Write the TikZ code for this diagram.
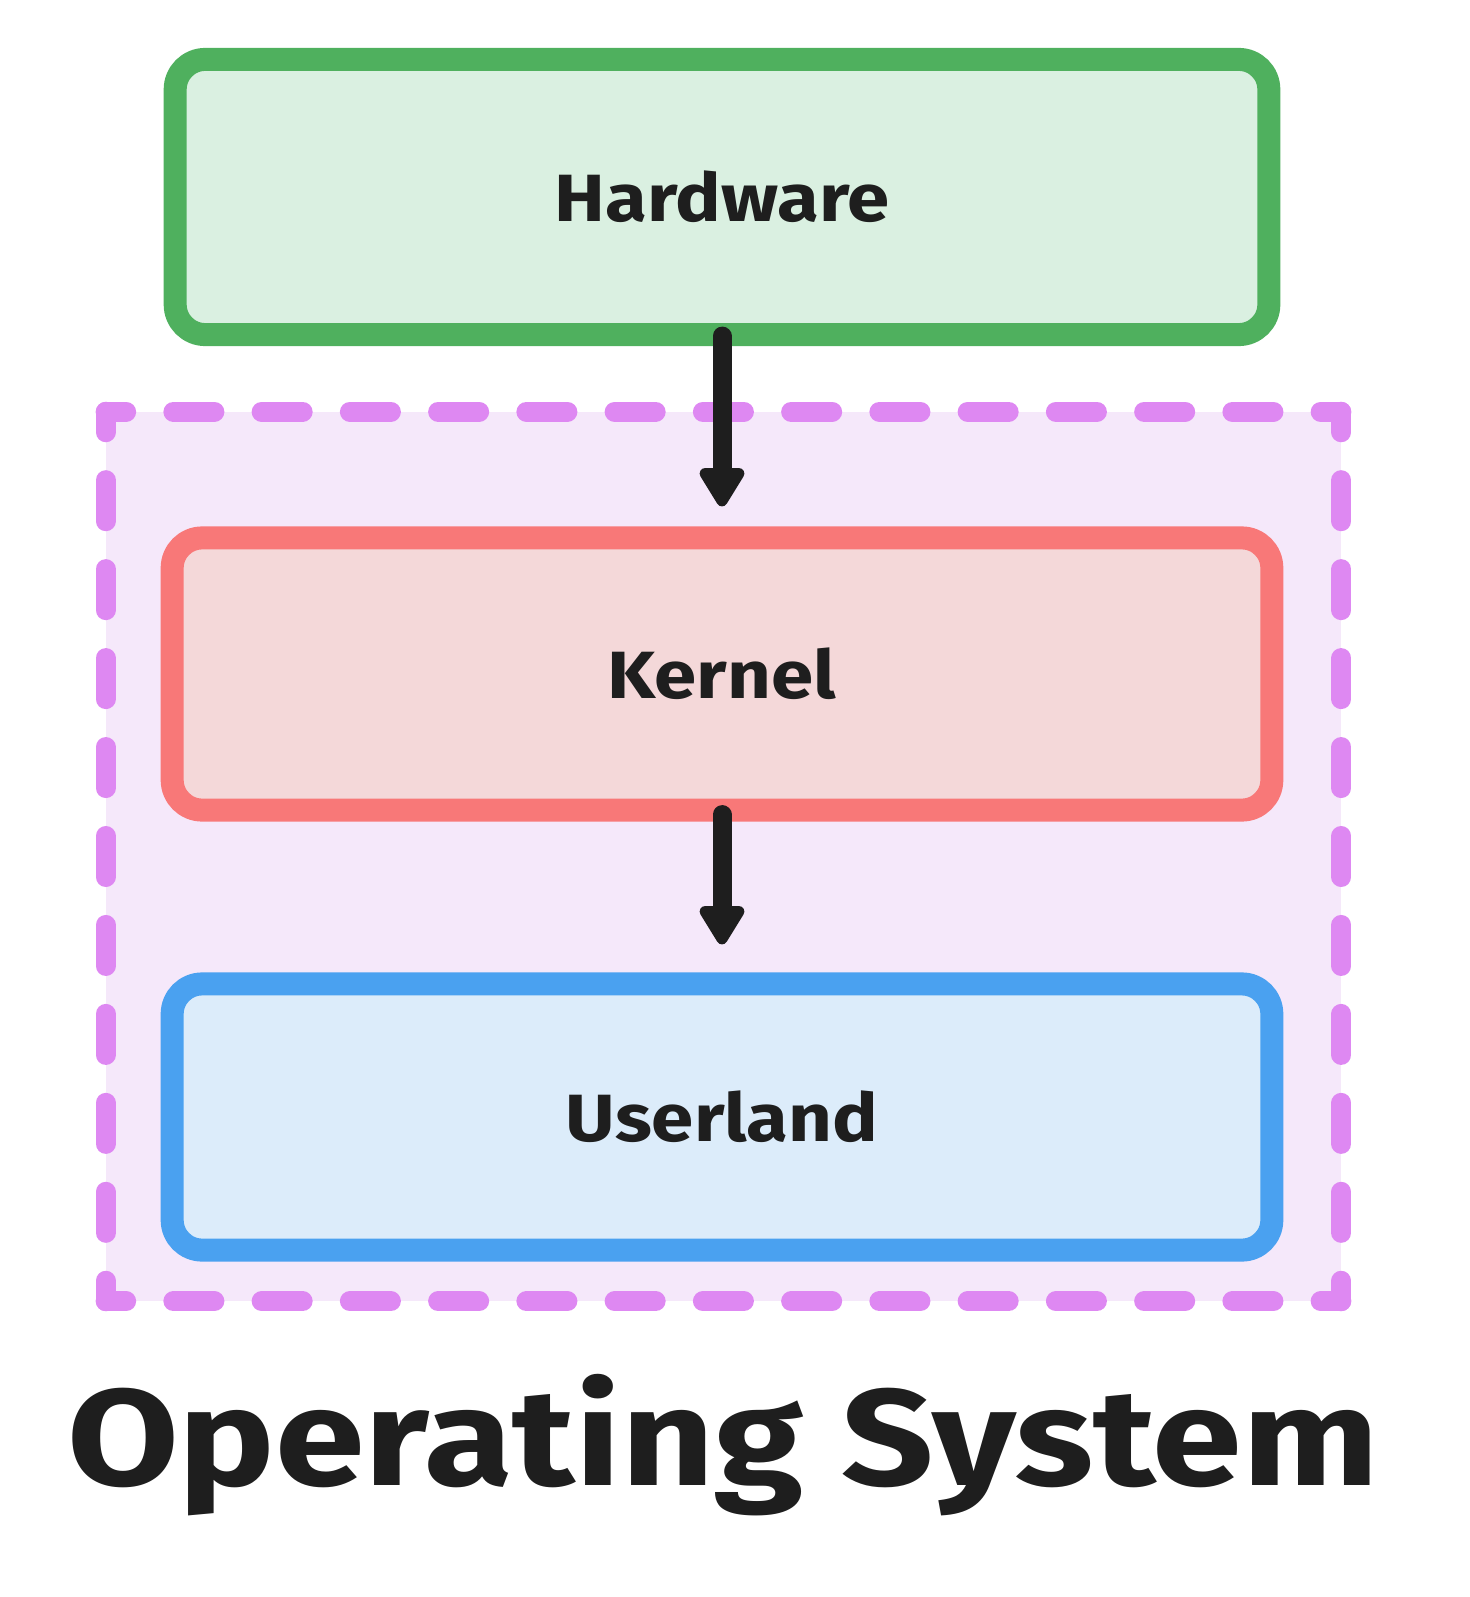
\documentclass[tikz,border=0pt]{standalone}
\usepackage{fontspec}
\setmainfont{Fira Sans}
\newfontfamily\handfont[FakeStretch=1.14]{Fira Sans}
\newfontfamily\titlefont[FakeStretch=1.18]{Fira Sans}
\usetikzlibrary{arrows.meta}
\definecolor{ink}{HTML}{1E1E1E}
\definecolor{hwline}{HTML}{4FB05E}
\definecolor{hwfill}{HTML}{DAF0E1}
\definecolor{knline}{HTML}{F87878}
\definecolor{knfill}{HTML}{F4D8D9}
\definecolor{usline}{HTML}{4AA1F0}
\definecolor{usfill}{HTML}{DCECFA}
\definecolor{osline}{HTML}{DE88F2}
\definecolor{osfill}{HTML}{F5E8FA}
\begin{document}
\begin{tikzpicture}[
    x=0.01cm, y=-0.01cm,
    layer/.style={draw, rounded corners=0.3cm, line width=0.23cm, minimum width=10.99cm,
      text=ink, font=\handfont\fontsize{19}{23}\selectfont\bfseries},
    flow/.style={-{Triangle[round, width=0.5cm, length=0.44cm]}, line width=0.19cm,
      draw=ink, line cap=round},
    hdash/.style={draw=osline, line width=0.2cm, line cap=round,
      dash pattern=on 0.41cm off 0.472cm, dash phase=0.205cm},
    vdash/.style={draw=osline, line width=0.2cm, line cap=round,
      dash pattern=on 0.41cm off 0.479cm, dash phase=0.205cm}
]
\useasboundingbox (0,0) rectangle (1469,1597);
% operating system frame
\node[fill=osfill, inner sep=0pt, outer sep=0pt, minimum width=12.35cm,
  minimum height=8.89cm] (os) at (723.5,856.5) {};
\draw[hdash] (os.north west) -- (os.north east);
\draw[hdash] (os.south west) -- (os.south east);
\draw[vdash] (os.north west) -- (os.south west);
\draw[vdash] (os.north east) -- (os.south east);
% layers
\node[layer, fill=hwfill, draw=hwline, minimum width=10.93cm, minimum height=2.75cm]
  (hw) at (722,197) {Hardware};
\node[layer, fill=knfill, draw=knline, minimum height=2.72cm]
  (kn) at (722,674) {Kernel};
\node[layer, fill=usfill, draw=usline, minimum height=2.66cm]
  (us) at (722,1117) {Userland};
\draw[flow] ([yshift=0.1cm]hw.south) -- ([yshift=0.2cm]kn.north);
\draw[flow] ([yshift=0.07cm]kn.south) -- ([yshift=0.28cm]us.north);
% title
\node[anchor=base, text=ink, font=\titlefont\fontsize{39}{47}\selectfont\bfseries]
  (title) at (723,1485) {Operating System};
\end{tikzpicture}
\end{document}
